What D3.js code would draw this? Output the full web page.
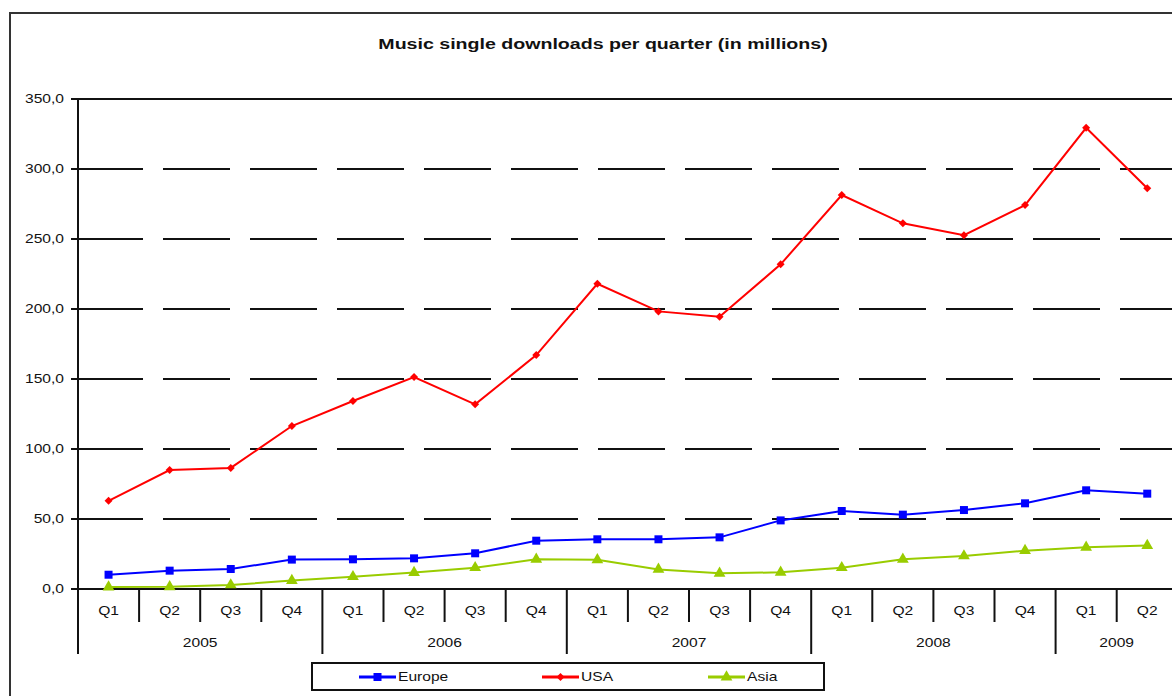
<!DOCTYPE html>
<html><head><meta charset="utf-8">
<script src="https://cdn.jsdelivr.net/npm/d3@7"></script>
<style>body{margin:0;background:#fff}svg{display:block}text{font-family:"Liberation Sans",Arial,sans-serif;fill:#111}</style>
</head><body><svg id="c" width="1172" height="696"></svg>
<script>
const title = "Music single downloads per quarter (in millions)";
const years = ["2005","2006","2007","2008","2009"];
const quarters = ["Q1","Q2","Q3","Q4","Q1","Q2","Q3","Q4","Q1","Q2","Q3","Q4","Q1","Q2","Q3","Q4","Q1","Q2"];
const quarterYears = ["2005","2005","2005","2005","2006","2006","2006","2006","2007","2007","2007","2007","2008","2008","2008","2008","2009","2009"];
const europe = [10.2,13.1,14.3,21.0,21.2,21.9,25.5,34.5,35.5,35.5,36.9,49.0,55.7,53.1,56.4,61.2,70.5,68.1];
const usa = [63.0,85.0,86.5,116.4,134.3,151.4,131.9,167.1,218.0,198.3,194.5,231.9,281.4,261.2,252.7,274.2,329.4,286.2];
const asia = [1.4,1.6,2.9,6.0,8.8,11.7,15.2,21.2,20.9,14.0,11.2,11.9,15.2,21.2,23.6,27.4,29.8,31.0];
const yTicks = [0,50,100,150,200,250,300,350];
const seriesNames = ["Europe","USA","Asia"];
const seriesColors = ["#0000ff","#ff0000","#99cc00"];
const seriesShapes = [d3.symbolSquare, d3.symbolSquare, d3.symbolTriangle];
const seriesRotate = [0, 45, 0];
const seriesSizes = [64, 32, 60];
const seriesData = [europe, usa, asia];

const svg = d3.select("#c");
function txt(g, x, y, s, anchor, size, weight, sx) {
  const t = g.append("text")
    .attr("transform", `translate(${x},${y}) scale(${sx || 1.3},1)`)
    .attr("text-anchor", anchor).attr("dominant-baseline", "central")
    .style("font-size", size + "px").text(s);
  if (weight) t.style("font-weight", weight);
  return t;
}

// frame
svg.append("rect").attr("x",10).attr("y",13).attr("width",1300).attr("height",800)
  .attr("fill","none").attr("stroke","#333").attr("stroke-width",2);

// title
txt(svg, 603, 44, title, "middle", 14, "bold", 1.4);

const plotLeft = 78, plotTop = 99, plotBottom = 589, step = 61.1;
const x = d3.scaleLinear().domain([0, quarters.length]).range([plotLeft, plotLeft + step*quarters.length]);
const y = d3.scaleLinear().domain([0, 350]).range([plotBottom, plotTop]);

// grid
const grid = svg.append("g");
yTicks.forEach(v => {
  const solid = (v === 0 || v === 350);
  grid.append("line").attr("x1", 71).attr("x2", 78).attr("y1", y(v)).attr("y2", y(v))
    .attr("stroke","#111").attr("stroke-width",2);
  grid.append("line").attr("x1", solid ? 78 : 76).attr("x2", 1172).attr("y1", y(v)).attr("y2", y(v))
    .attr("stroke","#111").attr("stroke-width",2)
    .attr("stroke-dasharray", solid ? null : "67,20");
  txt(grid, 64, y(v), d3.format(".1f")(v).replace(".", ","), "end", 12);
});

// y axis line
svg.append("line").attr("x1",plotLeft).attr("x2",plotLeft).attr("y1",plotTop).attr("y2",654)
  .attr("stroke","#111").attr("stroke-width",2);

// x axis categories
const xa = svg.append("g");
quarters.forEach((q, i) => {
  txt(xa, x(i + 0.5), 611, q, "middle", 12);
  if (i > 0) {
    const yearBoundary = quarterYears[i] !== quarterYears[i-1];
    xa.append("line").attr("x1", x(i)).attr("x2", x(i)).attr("y1", plotBottom).attr("y2", yearBoundary ? 654 : 622)
      .attr("stroke","#111").attr("stroke-width",2);
  }
});
years.forEach(yr => {
  const idx = quarterYears.map((d,i)=>d===yr?i:-1).filter(i=>i>=0);
  const cx = (x(idx[0]) + x(idx[idx.length-1] + 1)) / 2;
  txt(xa, cx, 643, yr, "middle", 12);
});

// series
const line = d3.line().x((d,i) => x(i + 0.5)).y(d => y(d));
seriesData.forEach((data, s) => {
  const g = svg.append("g");
  g.append("path").datum(data).attr("d", line).attr("fill","none")
    .attr("stroke", seriesColors[s]).attr("stroke-width", 2);
  g.selectAll("path.m").data(data).enter().append("path").attr("class","m")
    .attr("transform", (d,i) => `translate(${x(i+0.5)},${y(d)}) rotate(${seriesRotate[s]})`)
    .attr("d", d3.symbol().type(seriesShapes[s]).size(seriesSizes[s]))
    .attr("fill", seriesColors[s]);
});

// legend
const lg = svg.append("g");
lg.append("rect").attr("x",312).attr("y",663).attr("width",512).attr("height",27)
  .attr("fill","#fff").attr("stroke","#111").attr("stroke-width",2);
const legX = [359, 542, 708];
seriesNames.forEach((n, s) => {
  lg.append("line").attr("x1", legX[s]).attr("x2", legX[s] + 37).attr("y1", 677).attr("y2", 677)
    .attr("stroke", seriesColors[s]).attr("stroke-width", 3);
  lg.append("path").attr("transform", `translate(${legX[s] + 18.5},677) rotate(${seriesRotate[s]})`)
    .attr("d", d3.symbol().type(seriesShapes[s]).size(seriesSizes[s]))
    .attr("fill", seriesColors[s]);
  txt(lg, legX[s] + 39, 677, n, "start", 12);
});
</script></body></html>
